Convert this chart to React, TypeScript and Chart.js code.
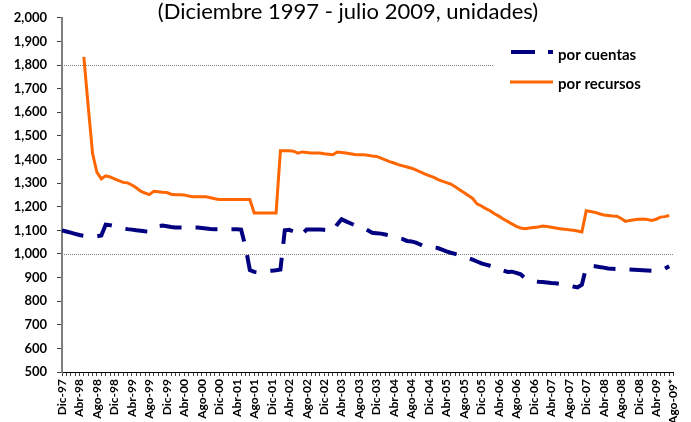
import React, { useEffect, useRef } from 'react';
import { Chart, registerables } from 'chart.js';

Chart.register(...registerables);

const TITLE = '(Diciembre 1997 - julio 2009, unidades)';
const MONTH_NAMES = ['Ene', 'Feb', 'Mar', 'Abr', 'May', 'Jun', 'Jul', 'Ago', 'Sep', 'Oct', 'Nov', 'Dic'];
const TICK_LABELS = [
  'Dic-97', 'Abr-98', 'Ago-98', 'Dic-98', 'Abr-99', 'Ago-99', 'Dic-99', 'Abr-00', 'Ago-00',
  'Dic-00', 'Abr-01', 'Ago-01', 'Dic-01', 'Abr-02', 'Ago-02', 'Dic-02', 'Abr-03', 'Ago-03',
  'Dic-03', 'Abr-04', 'Ago-04', 'Dic-04', 'Abr-05', 'Ago-05', 'Dic-05', 'Abr-06', 'Ago-06',
  'Dic-06', 'Abr-07', 'Ago-07', 'Dic-07', 'Abr-08', 'Ago-08', 'Dic-08', 'Abr-09', 'Ago-09*',
];
const SERIES_NAMES = ['por cuentas', 'por recursos'];

const POR_CUENTAS = [
  1100, 1095, 1090, 1085, 1080, 1077, 1076, 1075, 1075, 1078,
  1124, 1122, 1118, 1113, 1108, 1105, 1103, 1100, 1098, 1096,
  1095, 1105, 1118, 1120, 1117, 1114, 1112, 1112, 1112, 1112,
  1112, 1112, 1110, 1108, 1106, 1105, 1105, 1105, 1105, 1105,
  1105, 1103, 1030, 932, 924, 922, 925, 927, 929, 931,
  934, 1100, 1102, 1095, 1078, 1085, 1103, 1103, 1103, 1103,
  1102, 1100, 1096, 1125, 1147, 1138, 1130, 1122, 1118, 1110,
  1100, 1090, 1088, 1086, 1082, 1078, 1074, 1068, 1063, 1055,
  1053, 1048, 1040, 1030, 1028, 1027, 1025, 1018, 1011, 1005,
  1000, 995, 990, 983, 976, 968, 960, 955, 950, 945,
  941, 930, 924, 925, 920, 914, 897, 889, 885, 882,
  881, 879, 877, 876, 873, 870, 866, 862, 858, 870,
  944, 950, 948, 945, 942, 938, 937, 936, 936, 935,
  934, 933, 932, 931, 930, 929, 927, 932, 938, 948,
  null,
];

const POR_RECURSOS = [
  null, null, null, null, null, 1835, 1625, 1425, 1345, 1318,
  1331, 1326, 1318, 1310, 1303, 1301, 1292, 1280, 1266, 1258,
  1251, 1265, 1263, 1261, 1260, 1253, 1251, 1251, 1250, 1245,
  1242, 1242, 1242, 1242, 1238, 1234, 1231, 1230, 1230, 1230,
  1230, 1230, 1230, 1230, 1173, 1173, 1173, 1173, 1173, 1173,
  1437, 1437, 1437, 1435, 1427, 1432, 1430, 1427, 1427, 1427,
  1424, 1422, 1420, 1432, 1430, 1427, 1424, 1421, 1420, 1420,
  1418, 1415, 1413, 1406, 1398, 1391, 1385, 1378, 1373, 1368,
  1363, 1356, 1348, 1339, 1332, 1325, 1316, 1308, 1302, 1296,
  1285, 1272, 1260, 1248, 1235, 1212, 1203, 1192, 1183, 1170,
  1160, 1148, 1138, 1127, 1117, 1110, 1107, 1110, 1112, 1114,
  1118, 1116, 1113, 1110, 1107, 1105, 1102, 1100, 1097, 1093,
  1183, 1180, 1176, 1170, 1165, 1163, 1161, 1160, 1150, 1138,
  1142, 1145, 1147, 1148, 1146, 1142, 1147, 1156, 1158, 1163,
  null,
];

const Y_MIN = 500;
const Y_MAX = 2000;
const Y_STEP = 100;
const REFERENCE_LINES = [1000, 1800];

// Monthly categories starting Dic-97
const CATEGORIES: string[] = POR_CUENTAS.map((_, i) => {
  const m = (11 + i) % 12;
  const y = 1997 + Math.floor((11 + i) / 12);
  return MONTH_NAMES[m] + '-' + String(y % 100).padStart(2, '0');
});

const FONT = 'Lato, "Open Sans", sans-serif';
const BLUE = '#000080';
const ORANGE = '#FF6600';
const DASH = [22, 14];

const overlayPlugin = {
  id: 'overlay',
  beforeDatasetsDraw(chart: any) {
    const { ctx, chartArea, scales } = chart;
    ctx.save();
    ctx.strokeStyle = '#7f7f7f';
    ctx.lineWidth = 1;
    ctx.setLineDash([1, 1]);
    REFERENCE_LINES.forEach((v) => {
      const y = Math.round(scales.y.getPixelForValue(v)) + 0.5;
      ctx.beginPath();
      ctx.moveTo(chartArea.left, y);
      ctx.lineTo(chartArea.right, y);
      ctx.stroke();
    });
    ctx.restore();
  },
  afterDraw(chart: any) {
    const { ctx } = chart;
    ctx.save();
    // title
    ctx.fillStyle = '#000';
    ctx.font = '22px ' + FONT;
    ctx.textAlign = 'center';
    ctx.textBaseline = 'middle';
    ctx.fillText(TITLE, 348, 12);
    // legend box
    ctx.fillStyle = '#fff';
    ctx.fillRect(494, 38, 186, 62);
    ctx.lineWidth = 4;
    ctx.strokeStyle = BLUE;
    ctx.setLineDash([24, 13]);
    ctx.beginPath();
    ctx.moveTo(511, 52);
    ctx.lineTo(553, 52);
    ctx.stroke();
    ctx.setLineDash([]);
    ctx.lineWidth = 3;
    ctx.strokeStyle = ORANGE;
    ctx.beginPath();
    ctx.moveTo(510, 82);
    ctx.lineTo(553, 82);
    ctx.stroke();
    ctx.fillStyle = '#000';
    ctx.font = 'bold 15px ' + FONT;
    ctx.textAlign = 'left';
    ctx.fillText(SERIES_NAMES[0], 558, 55);
    ctx.fillText(SERIES_NAMES[1], 558, 84);
    ctx.restore();
  },
};

export default function App() {
  const canvasRef = useRef<HTMLCanvasElement | null>(null);

  useEffect(() => {
    if (!canvasRef.current) return;
    const chart = new Chart(canvasRef.current, {
      type: 'line',
      data: {
        labels: CATEGORIES,
        datasets: [
          {
            label: SERIES_NAMES[0],
            data: POR_CUENTAS,
            borderColor: BLUE,
            backgroundColor: BLUE,
            borderWidth: 4,
            borderDash: DASH,
            borderCapStyle: 'butt',
            pointRadius: 0,
            tension: 0,
            spanGaps: false,
          },
          {
            label: SERIES_NAMES[1],
            data: POR_RECURSOS,
            borderColor: ORANGE,
            backgroundColor: ORANGE,
            borderWidth: 3,
            pointRadius: 0,
            tension: 0,
            spanGaps: false,
          },
        ],
      },
      options: {
        animation: false,
        responsive: true,
        maintainAspectRatio: false,
        layout: { padding: { top: 16, right: 9, left: 0, bottom: 0 } },
        plugins: {
          legend: { display: false },
          title: { display: false },
          tooltip: { enabled: false },
        },
        scales: {
          x: {
            type: 'category',
            offset: false,
            afterFit: (scale: any) => { scale.height = 50; },
            border: { display: true, color: '#000', width: 1 },
            grid: {
              drawOnChartArea: false,
              drawTicks: true,
              tickLength: 4,
              tickColor: '#404040',
              tickWidth: 1,
            },
            ticks: {
              autoSkip: false,
              maxRotation: 90,
              minRotation: 90,
              padding: 3,
              color: '#000',
              font: { family: FONT, size: 12, weight: 'bold' },
              callback: (_v: any, i: number) => (i % 4 === 0 ? TICK_LABELS[i / 4] : ''),
            },
          },
          y: {
            min: Y_MIN,
            max: Y_MAX,
            afterFit: (scale: any) => { scale.width = 62; },
            border: { display: true, color: '#7f7f7f', width: 2 },
            grid: {
              drawOnChartArea: false,
              drawTicks: true,
              tickLength: 5,
              tickColor: '#404040',
              tickWidth: 1,
            },
            ticks: {
              stepSize: Y_STEP,
              padding: 10,
              color: '#000',
              font: { family: FONT, size: 13, weight: 'bold' },
              callback: (v: any) => Number(v).toLocaleString('en-US'),
            },
          },
        },
      },
      plugins: [overlayPlugin],
    } as any);
    return () => chart.destroy();
  }, []);

  return (
    <div style={{ position: 'absolute', left: 0, top: 0, width: 691, height: 422, background: '#fff' }}>
      <canvas ref={canvasRef} />
    </div>
  );
}
